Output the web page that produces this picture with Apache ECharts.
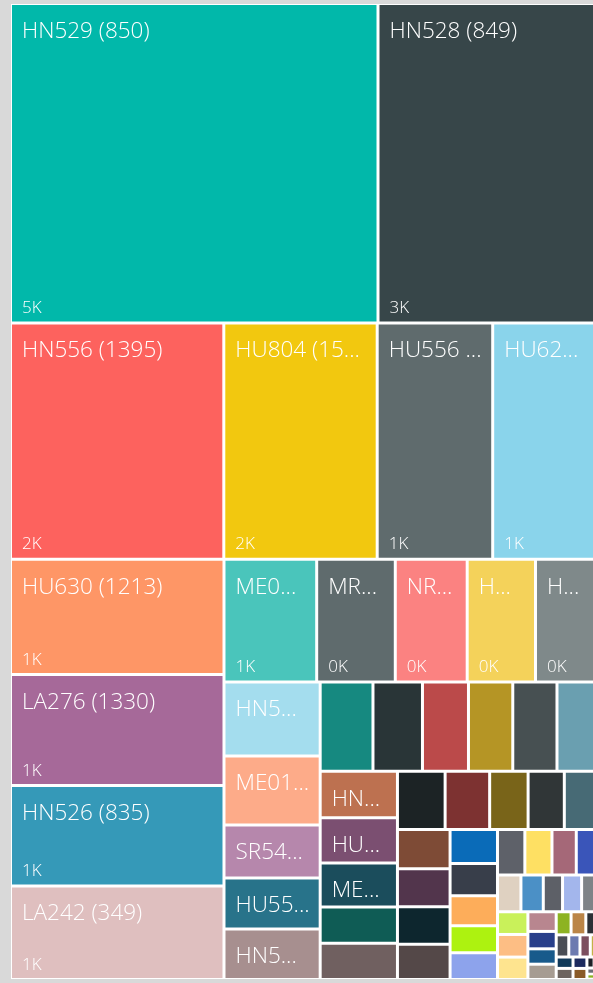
<!DOCTYPE html>
<html>
<head>
<meta charset="utf-8">
<script src="https://cdn.jsdelivr.net/npm/echarts@6/dist/echarts.min.js"></script>
<style>
  html, body { margin: 0; padding: 0; background: #d9d9d9; }
  #main { width: 593px; height: 983px; }
</style>
</head>
<body>
<div id="main"></div>
<script>
// Category labels (code + id), in descending order of value
const names = [
  'HN529 (850)', 'HN528 (849)',
  'HN556 (1395)', 'HU804 (1502)', 'HU556 (1394)', 'HU627 (1210)',
  'HU630 (1213)', 'LA276 (1330)', 'HN526 (835)', 'LA242 (349)',
  'ME031 (1288)', 'MR115 (1066)', 'NR210 (1075)', 'HU805 (1503)', 'HN557 (1396)',
  'HN541 (862)', 'ME017 (1292)', 'SR548 (1145)', 'HU557 (1397)', 'HN530 (851)',
  'HN551 (1389)', 'HU631 (1214)', 'LA277 (1331)', 'ME022 (1280)', 'HU628 (1211)', 'NR211 (1076)',
  'HN527 (836)', 'HU801 (1499)', 'ME019 (1294)', 'LA243 (350)', 'SR541 (1140)',
  'HN560 (1398)', 'HU632 (1215)', 'MR116 (1067)', 'LA278 (1332)', 'HN542 (863)',
  'HU558 (1399)', 'ME020 (1295)', 'NR212 (1077)', 'HN531 (852)',
  'HU806 (1504)', 'LA244 (351)', 'SR542 (1141)', 'HN543 (864)', 'HU629 (1212)',
  'ME023 (1281)', 'HN532 (853)', 'HU559 (1400)', 'LA279 (1333)',
  'NR213 (1078)', 'HN544 (865)', 'HU807 (1505)', 'MR117 (1068)', 'SR543 (1142)',
  'HN533 (854)', 'HU633 (1216)', 'LA245 (352)',
  'ME024 (1282)', 'HN545 (866)', 'HU560 (1401)', 'NR214 (1079)',
  'HN534 (855)', 'HU808 (1506)', 'LA280 (1334)',
  'SR544 (1143)', 'HN546 (867)', 'MR118 (1069)', 'HU634 (1217)',
  'ME025 (1283)', 'HN535 (856)',
  'HU561 (1402)', 'LA246 (353)',
  'NR215 (1080)', 'HN547 (868)', 'SR545 (1144)', 'HU809 (1507)', 'ME026 (1284)'
];

// Values
const values = [
  5342.4, 3234.5,
  2290.4, 1647.2, 1240.2, 1157.6,
  1120.1, 1078.3, 976.3, 907.3,
  517.5, 438.8, 401.4, 381.3, 362.9,
  324.3, 302.0, 231.5, 223.7, 220.6,
  214.5, 201.1, 186.9, 180.0, 179.6, 176.8,
  163.5, 159.0, 154.7, 127.7, 127.3,
  126.6, 118.3, 102.1, 96.2, 96.1,
  93.9, 90.5, 90.3, 84.1,
  73.2, 69.3, 64.8, 58.1, 57.9,
  56.5, 56.0, 50.2, 50.0,
  39.2, 37.4, 32.2, 31.9, 31.6,
  31.4, 31.3, 31.0,
  25.3, 22.4, 19.8, 19.7,
  15.6, 15.5, 15.4,
  12.7, 11.3, 10.4, 10.3,
  8.7, 8.5,
  7.2, 7.0,
  3.6, 3.2, 2.7, 2.3, 2.1
];

// Colours, one per category (style, kept apart from the data)
const palette = [
  '#01B8AA', '#374649',
  '#FD625E', '#F2C80F', '#5F6B6D', '#8AD4EB',
  '#FE9666', '#A66999', '#3599B8', '#DFBFBF',
  '#4AC5BB', '#5F6B6D', '#FB8281', '#F4D25A', '#7F898A',
  '#A4DDEE', '#FDAB89', '#B687AC', '#28738A', '#A78F8F',
  '#168980', '#293537', '#BB4A4A', '#B59525', '#475052', '#6A9FB0',
  '#BD7150', '#7B4F71', '#1B4D5C', '#0F5C55', '#706060',
  '#1C2325', '#7D3231', '#796419', '#303637', '#476A75',
  '#7E4B36', '#52354C', '#0D262E', '#544848',
  '#0A6BB8', '#383E4A', '#FDAD5A', '#ADF210', '#8DA3EC',
  '#5E6169', '#FEE063', '#A56878', '#3A55B9',
  '#DFD1C1', '#4B90C6', '#5D6067', '#A3B6EC', '#7E8387',
  '#C9F15A', '#FDBE84', '#FEE48F',
  '#B8868F', '#283F8A', '#185A8B', '#A69C92',
  '#8DB322', '#BB8547', '#2C3036',
  '#4A4E56', '#6C7AB0', '#7C4E5E', '#C3B148',
  '#113A5A', '#6D645F',
  '#1C2A5E', '#8A5B28',
  '#1E2127', '#A0A4AA', '#6A6E74', '#8DB322', '#50545A'
];

const GOLDEN = 0.5 * (1 + Math.sqrt(5));
const FAMILY = "'Open Sans', 'Noto Sans', sans-serif";
const NAME_SIZE = 22.5, NAME_WEIGHT = 300;
const NAME_PAD_L = 10, NAME_PAD_R = 9.02;
const fmtK = v => Math.round(v / 1000) + 'K';

// Power BI style truncation: cut the label and add '...' so it fits the cell
const measureCtx = document.createElement('canvas').getContext('2d');
measureCtx.font = NAME_WEIGHT + ' ' + NAME_SIZE + 'px ' + FAMILY;
function fitText(text, avail) {
  if (measureCtx.measureText(text).width <= avail) return text;
  for (let k = text.length - 1; k >= 1; k--) {
    const s = text.slice(0, k) + '...';
    if (measureCtx.measureText(s).width <= avail) return s;
  }
  return '';
}

function buildSeries(kind, labelTexts, valueFlags) {
  const isName = kind === 'name';
  return {
    type: 'treemap',
    id: kind,
    left: 11, top: 4, width: 589, height: 975,
    roam: false,
    nodeClick: false,
    silent: !isName,
    z: isName ? 2 : 3,
    breadcrumb: { show: false },
    sort: 'desc',
    squareRatio: GOLDEN,
    visibleMin: 0,
    animation: false,
    upperLabel: { show: false },
    emphasis: { disabled: true },
    itemStyle: { borderWidth: 0, gapWidth: 0, borderRadius: 0,
                 borderColor: isName ? '#ffffff' : 'rgba(0,0,0,0)' },
    levels: [
      { itemStyle: { borderWidth: 1, gapWidth: 3,
                     borderColor: isName ? '#ffffff' : 'rgba(0,0,0,0)' } },
      { itemStyle: { borderWidth: 0, gapWidth: 0 } }
    ],
    label: isName ? {
      show: true,
      position: 'insideTopLeft',
      distance: 0,
      padding: [14, 0, 0, NAME_PAD_L],
      color: '#ffffff',
      fontFamily: FAMILY,
      fontWeight: NAME_WEIGHT,
      fontSize: NAME_SIZE,
      lineHeight: 25,
      overflow: 'truncate',
      ellipsis: '...',
      formatter: '{b}'
    } : {
      show: true,
      position: 'insideBottomLeft',
      distance: 0,
      padding: [0, 8, 3, 10],
      color: '#ffffff',
      fontFamily: FAMILY,
      fontWeight: 300,
      fontSize: 17,
      lineHeight: 20,
      overflow: 'truncate',
      formatter: p => fmtK(p.value)
    },
    data: names.map((n, i) => {
      const item = {
        name: n,
        value: values[i],
        itemStyle: { color: isName ? palette[i] : 'rgba(0,0,0,0)' }
      };
      if (isName && labelTexts) {
        item.label = labelTexts[i] ? { show: true, formatter: labelTexts[i] } : { show: false };
      }
      if (!isName && valueFlags) item.label = { show: valueFlags[i] };
      return item;
    })
  };
}

const chart = echarts.init(document.getElementById('main'), null, { renderer: 'canvas' });
const base = { backgroundColor: '#d9d9d9', animation: false };

chart.setOption(Object.assign({}, base, {
  series: [buildSeries('name', null, null), buildSeries('value', null, null)]
}));

// Power BI hides or shortens labels in cells that are too small: read the
// cell sizes that ECharts computed and decide which labels fit.
try {
  const data = chart.getModel().getSeriesByIndex(0).getData();
  const size = {};
  for (let i = 0; i < data.count(); i++) {
    const l = data.getItemLayout(i);
    if (l) size[data.getName(i)] = l;
  }
  const nameTexts = names.map(n => {
    const l = size[n];
    if (!l || l.width < 58 || l.height < 38) return '';
    return fitText(n, l.width - NAME_PAD_L - NAME_PAD_R);
  });
  const showValue = names.map(n => !!size[n] && size[n].width >= 58 && size[n].height >= 80);
  chart.setOption(Object.assign({}, base, {
    series: [buildSeries('name', nameTexts, null), buildSeries('value', null, showValue)]
  }), true);
} catch (e) {
  console.error(e);
}
</script>
</body>
</html>
